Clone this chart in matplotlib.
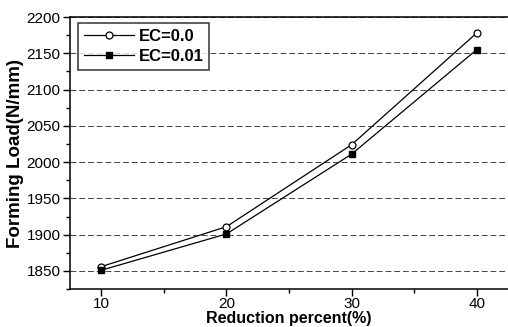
"""Forming load vs reduction percent"""

import matplotlib as mpl
mpl.use("Agg")
import matplotlib.pyplot as plt
from matplotlib.ticker import MultipleLocator

# data
reduction = [10, 20, 30, 40]
load_ec0 = [1856, 1911, 2024, 2178]
load_ec001 = [1851, 1901, 2011, 2155]

plt.rcParams['font.family'] = ['Liberation Sans', 'DejaVu Sans']

fig = plt.figure(figsize=(5.08, 3.27), dpi=100)
ax = fig.add_axes([0.138, 0.116, 0.862, 0.832])

ax.plot(reduction, load_ec0, color='black', lw=0.9, marker='o', ms=5,
        mfc='white', mec='black', mew=0.9, label='EC=0.0')
ax.plot(reduction, load_ec001, color='black', lw=0.9, marker='s', ms=5,
        mfc='black', mec='black', label='EC=0.01')

ax.set_xlim(7.5, 42.5)
ax.set_ylim(1825, 2200)
ax.xaxis.set_major_locator(MultipleLocator(10))
ax.xaxis.set_minor_locator(MultipleLocator(5))
ax.yaxis.set_major_locator(MultipleLocator(50))
ax.yaxis.set_minor_locator(MultipleLocator(25))
ax.tick_params(which='major', length=5, width=1, labelsize=11, pad=2)
ax.tick_params(axis='x', which='major', pad=0.5)
ax.tick_params(which='minor', length=3, width=1)

ax.grid(axis='y', which='major', linestyle=(0, (6, 3)), color='#444444', lw=0.7)
ax.set_axisbelow(True)
ax.spines['right'].set_visible(False)
for s in ['left', 'bottom', 'top']:
    ax.spines[s].set_linewidth(1.1)

ax.set_xlabel('Reduction percent(%)', fontsize=11.5, fontweight='bold', labelpad=0)
ax.set_ylabel('Forming Load(N/mm)', fontsize=13.5, fontweight='bold', labelpad=2)

leg = ax.legend(loc='upper left', bbox_to_anchor=(0.01, 0.99), fontsize=12,
                frameon=True, fancybox=False, edgecolor='black',
                handlelength=3.0, borderpad=0.35, labelspacing=0.3,
                handletextpad=0.3, borderaxespad=0.2)
leg.get_frame().set_linewidth(1.1)
for t in leg.get_texts():
    t.set_fontweight('bold')

fig.savefig('out.png', dpi=100)
